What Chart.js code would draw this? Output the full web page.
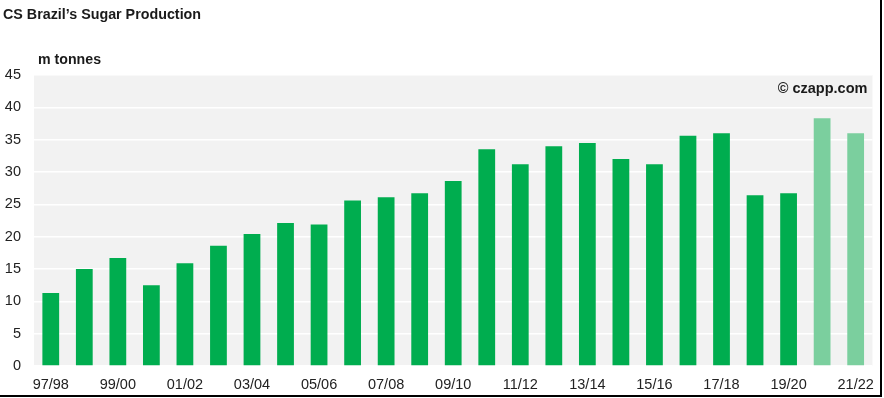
<!DOCTYPE html>
<html>
<head>
<meta charset="utf-8">
<script src="https://cdn.jsdelivr.net/npm/chart.js@4"></script>
<style>
  html, body { margin: 0; padding: 0; background: #ffffff; }
  #wrap { position: relative; width: 884px; height: 398px; }
  #frame { position: absolute; left: 0; top: 0; width: 880px; height: 395px;
           border-right: 2px solid #000; border-bottom: 2px solid #000; pointer-events: none; }
</style>
</head>
<body>
<div id="wrap">
  <canvas id="c" width="884" height="398"></canvas>
  <div id="frame"></div>
</div>
<script>
const categories = ['97/98','98/99','99/00','00/01','01/02','02/03','03/04','04/05','05/06','06/07',
  '07/08','08/09','09/10','10/11','11/12','12/13','13/14','14/15','15/16','16/17',
  '17/18','18/19','19/20','20/21','21/22'];
const production = [11.3, 15.0, 16.7, 12.5, 15.9, 18.6, 20.4, 22.1, 21.9, 25.6,
  26.1, 26.7, 28.6, 33.5, 31.2, 34.0, 34.5, 32.0, 31.2, 35.6,
  36.0, 26.4, 26.7, 38.3, 36.0];
const forecastSeasons = ['20/21', '21/22'];
const yTicks = [0, 5, 10, 15, 20, 25, 30, 35, 40, 45];

const titleText = 'CS Brazil\u2019s Sugar Production';
const unitText = 'm tonnes';
const sourceText = '\u00a9 czapp.com';

const FONT = '"Liberation Sans", Arial, Helvetica, sans-serif';

const decor = {
  id: 'decor',
  beforeDraw(chart) {
    const { ctx, chartArea: a } = chart;
    ctx.save();
    ctx.fillStyle = '#f2f2f2';
    ctx.fillRect(a.left, a.top, a.right - a.left, a.bottom - a.top);
    ctx.restore();
  },
  afterDraw(chart) {
    const { ctx, chartArea: a } = chart;
    ctx.save();
    ctx.fillStyle = '#1a1a1a';
    ctx.textBaseline = 'middle';
    ctx.font = 'bold 14.3px ' + FONT;
    ctx.textAlign = 'left';
    ctx.fillText(titleText, 3, 15);
    ctx.font = 'bold 14.2px ' + FONT;
    ctx.fillText(unitText, 38, 60);
    ctx.textAlign = 'right';
    ctx.font = 'bold 14.5px ' + FONT;
    ctx.fillText(sourceText, a.right - 5, 89);
    ctx.restore();
  }
};

new Chart(document.getElementById('c'), {
  type: 'bar',
  data: {
    labels: categories,
    datasets: [{
      data: production,
      backgroundColor: categories.map(c => forecastSeasons.includes(c) ? '#7bcf9e' : '#00ad4f'),
      borderWidth: 0,
      categoryPercentage: 1,
      barPercentage: 0.5
    }]
  },
  options: {
    responsive: false,
    animation: false,
    devicePixelRatio: 1,
    layout: { padding: { top: 75, right: 10, left: 0, bottom: 0 } },
    plugins: { legend: { display: false }, tooltip: { enabled: false }, title: { display: false } },
    scales: {
      x: {
        grid: { display: false, drawTicks: false },
        border: { display: false },
        ticks: {
          autoSkip: false, maxRotation: 0, padding: 10,
          color: '#222', font: { family: FONT, size: 14.5 },
          callback: (v, i) => (i % 2 === 0 ? categories[i] : '')
        },
        afterFit: s => { s.height = 32; }
      },
      y: {
        min: 0, max: 45,
        afterBuildTicks: s => { s.ticks = yTicks.map(v => ({ value: v })); },
        grid: { color: '#ffffff', lineWidth: 1.5, drawTicks: false },
        border: { display: false },
        ticks: { padding: 13, color: '#222', font: { family: FONT, size: 14.5 } },
        afterFit: s => { s.width = 34; }
      }
    }
  },
  plugins: [decor]
});
</script>
</body>
</html>
